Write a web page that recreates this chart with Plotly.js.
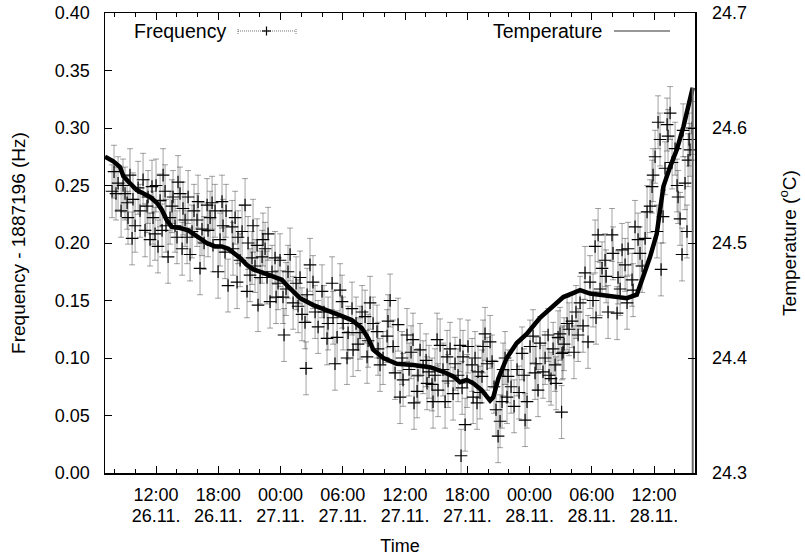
<!DOCTYPE html>
<html>
<head>
<meta charset="utf-8">
<script src="https://cdn.plot.ly/plotly-3.0.1.min.js"></script>
<style>html,body{margin:0;padding:0;background:#fff;}</style>
</head>
<body>
<div id="chart" style="width:805px;height:558px;"></div>
<script>
// Frequency measurements: time in hours since 26.11. 00:00, value = f - 1887196 Hz
const freqHours = [7.76,7.95,8.14,8.34,8.63,8.82,9.01,9.21,9.30,9.49,9.69,9.78,9.98,10.27,10.46,10.75,10.94,11.13,11.23,11.42,11.61,11.71,11.90,12.00,12.19,12.39,12.58,12.68,12.87,12.96,13.16,13.35,13.54,13.64,13.83,14.02,14.12,14.31,14.51,14.60,14.80,14.99,15.09,15.28,15.47,15.66,15.95,16.05,16.24,16.43,16.63,16.92,17.01,17.21,17.40,17.49,17.69,17.98,18.17,18.36,18.46,18.65,18.75,18.94,19.33,19.42,19.62,19.81,19.90,20.10,20.29,20.58,20.77,20.87,21.06,21.25,21.35,21.54,21.74,21.83,22.03,22.22,22.31,22.51,22.70,22.80,22.99,23.18,23.47,23.57,23.76,23.95,24.24,24.34,24.53,24.72,24.92,25.21,25.50,25.69,25.88,26.07,26.36,26.46,26.56,26.84,27.13,27.33,27.62,28.00,28.19,28.48,28.58,28.97,29.06,29.25,29.45,29.74,29.93,30.03,30.41,30.51,30.89,30.99,31.28,31.47,31.66,31.86,32.15,32.34,32.44,32.63,32.92,33.30,33.40,33.59,33.88,34.27,34.36,34.56,34.85,35.04,35.33,35.52,35.71,35.81,36.19,36.39,36.58,36.77,36.87,37.16,37.25,37.45,37.74,38.03,38.12,38.31,38.60,38.70,38.89,39.09,39.18,39.38,39.66,39.86,40.05,40.15,40.34,40.63,40.82,41.11,41.30,41.40,41.50,41.59,41.79,41.98,42.07,42.46,42.56,42.75,42.94,43.04,43.23,43.42,43.52,43.71,43.91,44.20,44.39,44.58,44.77,44.97,45.16,45.35,45.45,45.64,45.83,45.93,46.22,46.51,46.80,46.99,47.28,47.47,47.57,47.76,48.05,48.34,48.53,48.63,48.82,49.01,49.30,49.50,49.79,49.88,50.07,50.27,50.46,50.56,50.75,50.94,51.09,51.13,51.23,51.33,51.62,51.81,52.10,52.29,52.48,52.68,52.87,53.16,53.35,53.64,53.83,54.12,54.32,54.41,54.61,54.80,54.99,55.28,55.38,55.57,55.95,56.05,56.44,56.53,56.73,56.92,57.21,57.40,57.50,57.88,57.98,58.17,58.46,58.65,58.85,59.14,59.33,59.62,59.81,59.91,60.10,60.29,60.39,60.58,60.68,60.87,61.06,61.26,61.35,61.55,61.74,62.03,62.22,62.32,62.51,62.70,62.80,62.99,63.18,63.28,63.38,63.47,63.67];
const freqValues = [0.245,0.262,0.243,0.252,0.228,0.250,0.243,0.235,0.222,0.259,0.204,0.238,0.215,0.248,0.228,0.255,0.211,0.232,0.240,0.203,0.249,0.222,0.208,0.250,0.197,0.237,0.211,0.259,0.245,0.215,0.188,0.222,0.232,0.240,0.215,0.205,0.253,0.243,0.195,0.230,0.220,0.205,0.240,0.190,0.210,0.228,0.220,0.236,0.178,0.212,0.200,0.233,0.211,0.222,0.235,0.198,0.228,0.175,0.203,0.236,0.215,0.192,0.228,0.163,0.214,0.195,0.222,0.166,0.205,0.185,0.210,0.233,0.158,0.200,0.172,0.187,0.215,0.180,0.198,0.146,0.170,0.188,0.203,0.195,0.170,0.208,0.149,0.175,0.187,0.153,0.165,0.185,0.153,0.120,0.160,0.175,0.190,0.148,0.165,0.145,0.170,0.138,0.131,0.091,0.155,0.181,0.166,0.140,0.127,0.158,0.140,0.117,0.130,0.165,0.135,0.095,0.118,0.159,0.149,0.130,0.100,0.122,0.143,0.107,0.130,0.112,0.122,0.140,0.136,0.101,0.115,0.148,0.130,0.123,0.108,0.094,0.100,0.119,0.132,0.150,0.110,0.087,0.129,0.066,0.100,0.081,0.120,0.090,0.105,0.116,0.061,0.071,0.085,0.107,0.092,0.098,0.078,0.088,0.077,0.062,0.085,0.116,0.072,0.111,0.090,0.062,0.101,0.080,0.108,0.069,0.095,0.085,0.111,0.015,0.074,0.101,0.042,0.080,0.110,0.094,0.066,0.100,0.061,0.088,0.070,0.084,0.110,0.121,0.095,0.114,0.097,0.075,0.055,0.032,0.045,0.062,0.090,0.100,0.066,0.084,0.075,0.058,0.090,0.070,0.104,0.085,0.046,0.062,0.110,0.119,0.087,0.095,0.072,0.113,0.088,0.100,0.120,0.085,0.082,0.108,0.094,0.078,0.118,0.121,0.053,0.104,0.105,0.112,0.130,0.125,0.132,0.105,0.140,0.120,0.148,0.128,0.174,0.114,0.166,0.150,0.197,0.135,0.207,0.160,0.178,0.185,0.171,0.140,0.207,0.191,0.139,0.170,0.160,0.194,0.181,0.148,0.195,0.168,0.159,0.214,0.203,0.191,0.180,0.204,0.227,0.232,0.249,0.259,0.275,0.210,0.305,0.290,0.177,0.223,0.265,0.303,0.293,0.313,0.270,0.282,0.250,0.240,0.221,0.190,0.298,0.252,0.210,0.272,0.290,0.281,0.300];
const freqError = 0.023;

// Temperature: time in hours since 26.11. 00:00, value in degrees C
const tempHours = [7.08,7.88,8.53,8.85,9.49,10.14,10.78,11.42,12.07,12.55,13.03,13.51,14.31,15.11,15.60,16.24,16.89,17.69,18.33,18.97,19.62,20.10,20.74,21.38,22.34,23.31,24.12,24.75,25.56,25.88,27.16,28.45,29.74,30.86,31.83,32.46,32.95,33.91,35.20,36.80,38.41,39.69,40.65,41.30,41.95,42.58,43.39,44.20,44.51,44.99,45.80,46.77,47.73,49.01,50.30,51.26,52.07,52.87,53.83,54.80,56.08,57.37,58.34,58.97,59.62,60.26,60.58,60.90,61.54,62.19,62.83,63.31,63.73,63.73];
const tempValues = [24.575,24.571,24.566,24.558,24.552,24.546,24.543,24.540,24.535,24.529,24.520,24.514,24.513,24.511,24.508,24.504,24.500,24.497,24.497,24.495,24.491,24.487,24.481,24.477,24.474,24.471,24.468,24.462,24.455,24.452,24.446,24.442,24.437,24.433,24.426,24.417,24.407,24.400,24.395,24.394,24.392,24.388,24.384,24.379,24.381,24.378,24.372,24.363,24.366,24.382,24.400,24.413,24.421,24.435,24.446,24.453,24.456,24.459,24.456,24.455,24.453,24.452,24.455,24.471,24.488,24.508,24.529,24.549,24.566,24.581,24.601,24.619,24.635,24.200];

// Axis ticks
const xTickHours = [12,18,24,30,36,42,48,54,60];
const xTickTimes = ['12:00','18:00','00:00','06:00','12:00','18:00','00:00','06:00','12:00'];
const xTickDates = ['26.11.','26.11.','27.11.','27.11.','27.11.','27.11.','28.11.','28.11.','28.11.'];
const seriesNames = ['Frequency','Temperature'];

const FONT = 'Liberation Sans, Arial, Helvetica, sans-serif';
const nT = tempHours.length;

const traces = [
  {
    type: 'scatter', mode: 'markers', name: seriesNames[0],
    x: freqHours, y: freqValues,
    marker: {symbol: 'cross-thin', size: 9, color: '#000', line: {color: '#000', width: 1.2}},
    error_y: {type: 'constant', value: freqError, color: 'rgba(0,0,0,0.36)', thickness: 1, width: 3},
    xaxis: 'x', yaxis: 'y', hoverinfo: 'skip'
  },
  {
    type: 'scatter', mode: 'lines', name: seriesNames[1],
    x: tempHours.slice(0, nT - 1), y: tempValues.slice(0, nT - 1),
    line: {color: '#000', width: 4.5},
    xaxis: 'x', yaxis: 'y2', hoverinfo: 'skip'
  },
  {
    type: 'scatter', mode: 'lines', name: seriesNames[1] + ' end',
    x: tempHours.slice(nT - 2), y: tempValues.slice(nT - 2),
    line: {color: '#666', width: 2},
    xaxis: 'x2', yaxis: 'y2', hoverinfo: 'skip'
  }
];

const axisCommon = {
  showgrid: false, zeroline: false, showline: true, linecolor: '#000', linewidth: 1.5,
  ticks: 'inside', ticklen: 7, tickwidth: 1, tickcolor: '#000',
  tickfont: {family: FONT, size: 18, color: '#000'}
};

const L = {xl: 105, xr: 695, yt: 13, yb: 473};
const px = v => (v - L.xl) / (L.xr - L.xl);
const py = v => (L.yb - v) / (L.yb - L.yt);
const legY = py(31);

const layout = {
  width: 805, height: 558,
  margin: {l: 105, r: 110, t: 13, b: 85},
  paper_bgcolor: '#fff', plot_bgcolor: '#fff',
  showlegend: false,
  font: {family: FONT, size: 18, color: '#000'},
  xaxis: Object.assign({}, axisCommon, {
    range: [7.08, 63.95],
    tickmode: 'array', tickvals: xTickHours, ticktext: xTickTimes,
    mirror: 'ticks',
    minor: {tickmode: 'linear', tick0: 0, dtick: 2, ticks: 'inside', ticklen: 4, tickcolor: '#000', tickwidth: 1, showgrid: false},
    ticklabelstandoff: 5
  }),
  xaxis2: {
    overlaying: 'x', anchor: 'y', side: 'bottom',
    range: [7.08, 63.95],
    tickmode: 'array', tickvals: xTickHours, ticktext: xTickDates,
    showgrid: false, zeroline: false, showline: false, ticks: '',
    tickfont: {family: FONT, size: 18, color: '#000'},
    ticklabelstandoff: 30,
    title: {text: 'Time', font: {family: FONT, size: 18}, standoff: 14}
  },
  yaxis: Object.assign({}, axisCommon, {
    range: [0, 0.4], tick0: 0, dtick: 0.05, tickformat: '.2f',
    mirror: false, ticklabelstandoff: 10,
    title: {text: 'Frequency - 1887196 (Hz)', font: {family: FONT, size: 19}, standoff: 24}
  }),
  yaxis2: Object.assign({}, axisCommon, {
    overlaying: 'y', side: 'right',
    range: [24.3, 24.7], tick0: 24.3, dtick: 0.1, tickformat: '.1f',
    ticklabelstandoff: 12,
    title: {text: 'Temperature (<sup>o</sup>C)', font: {family: FONT, size: 19}, standoff: 36}
  }),
  annotations: [
    {xref: 'paper', yref: 'paper', x: px(228), y: legY, xanchor: 'right', yanchor: 'middle', text: seriesNames[0], showarrow: false, font: {family: FONT, size: 19.5, color: '#000'}},
    {xref: 'paper', yref: 'paper', x: px(604), y: legY, xanchor: 'right', yanchor: 'middle', text: seriesNames[1], showarrow: false, font: {family: FONT, size: 19.5, color: '#000'}}
  ],
  shapes: [
    {type: 'line', xref: 'paper', yref: 'paper', x0: px(238), x1: px(296), y0: legY, y1: legY, line: {color: 'rgba(0,0,0,0.55)', width: 1, dash: '1px,1px'}},
    {type: 'line', xref: 'paper', yref: 'paper', x0: px(238), x1: px(238), y0: py(34), y1: py(28), line: {color: 'rgba(0,0,0,0.55)', width: 1, dash: '1px,1px'}},
    {type: 'line', xref: 'paper', yref: 'paper', x0: px(296), x1: px(296), y0: py(34), y1: py(28), line: {color: 'rgba(0,0,0,0.55)', width: 1, dash: '1px,1px'}},
    {type: 'line', xref: 'paper', yref: 'paper', x0: px(262), x1: px(271), y0: legY, y1: legY, line: {color: '#000', width: 1.2}},
    {type: 'line', xref: 'paper', yref: 'paper', x0: px(266.5), x1: px(266.5), y0: py(35.5), y1: py(26.5), line: {color: '#000', width: 1.2}},
    {type: 'line', xref: 'paper', yref: 'paper', x0: px(614), x1: px(670), y0: legY, y1: legY, line: {color: '#333', width: 1.2}}
  ]
};

Plotly.newPlot('chart', traces, layout, {displayModeBar: false, staticPlot: true});
</script>
</body>
</html>
